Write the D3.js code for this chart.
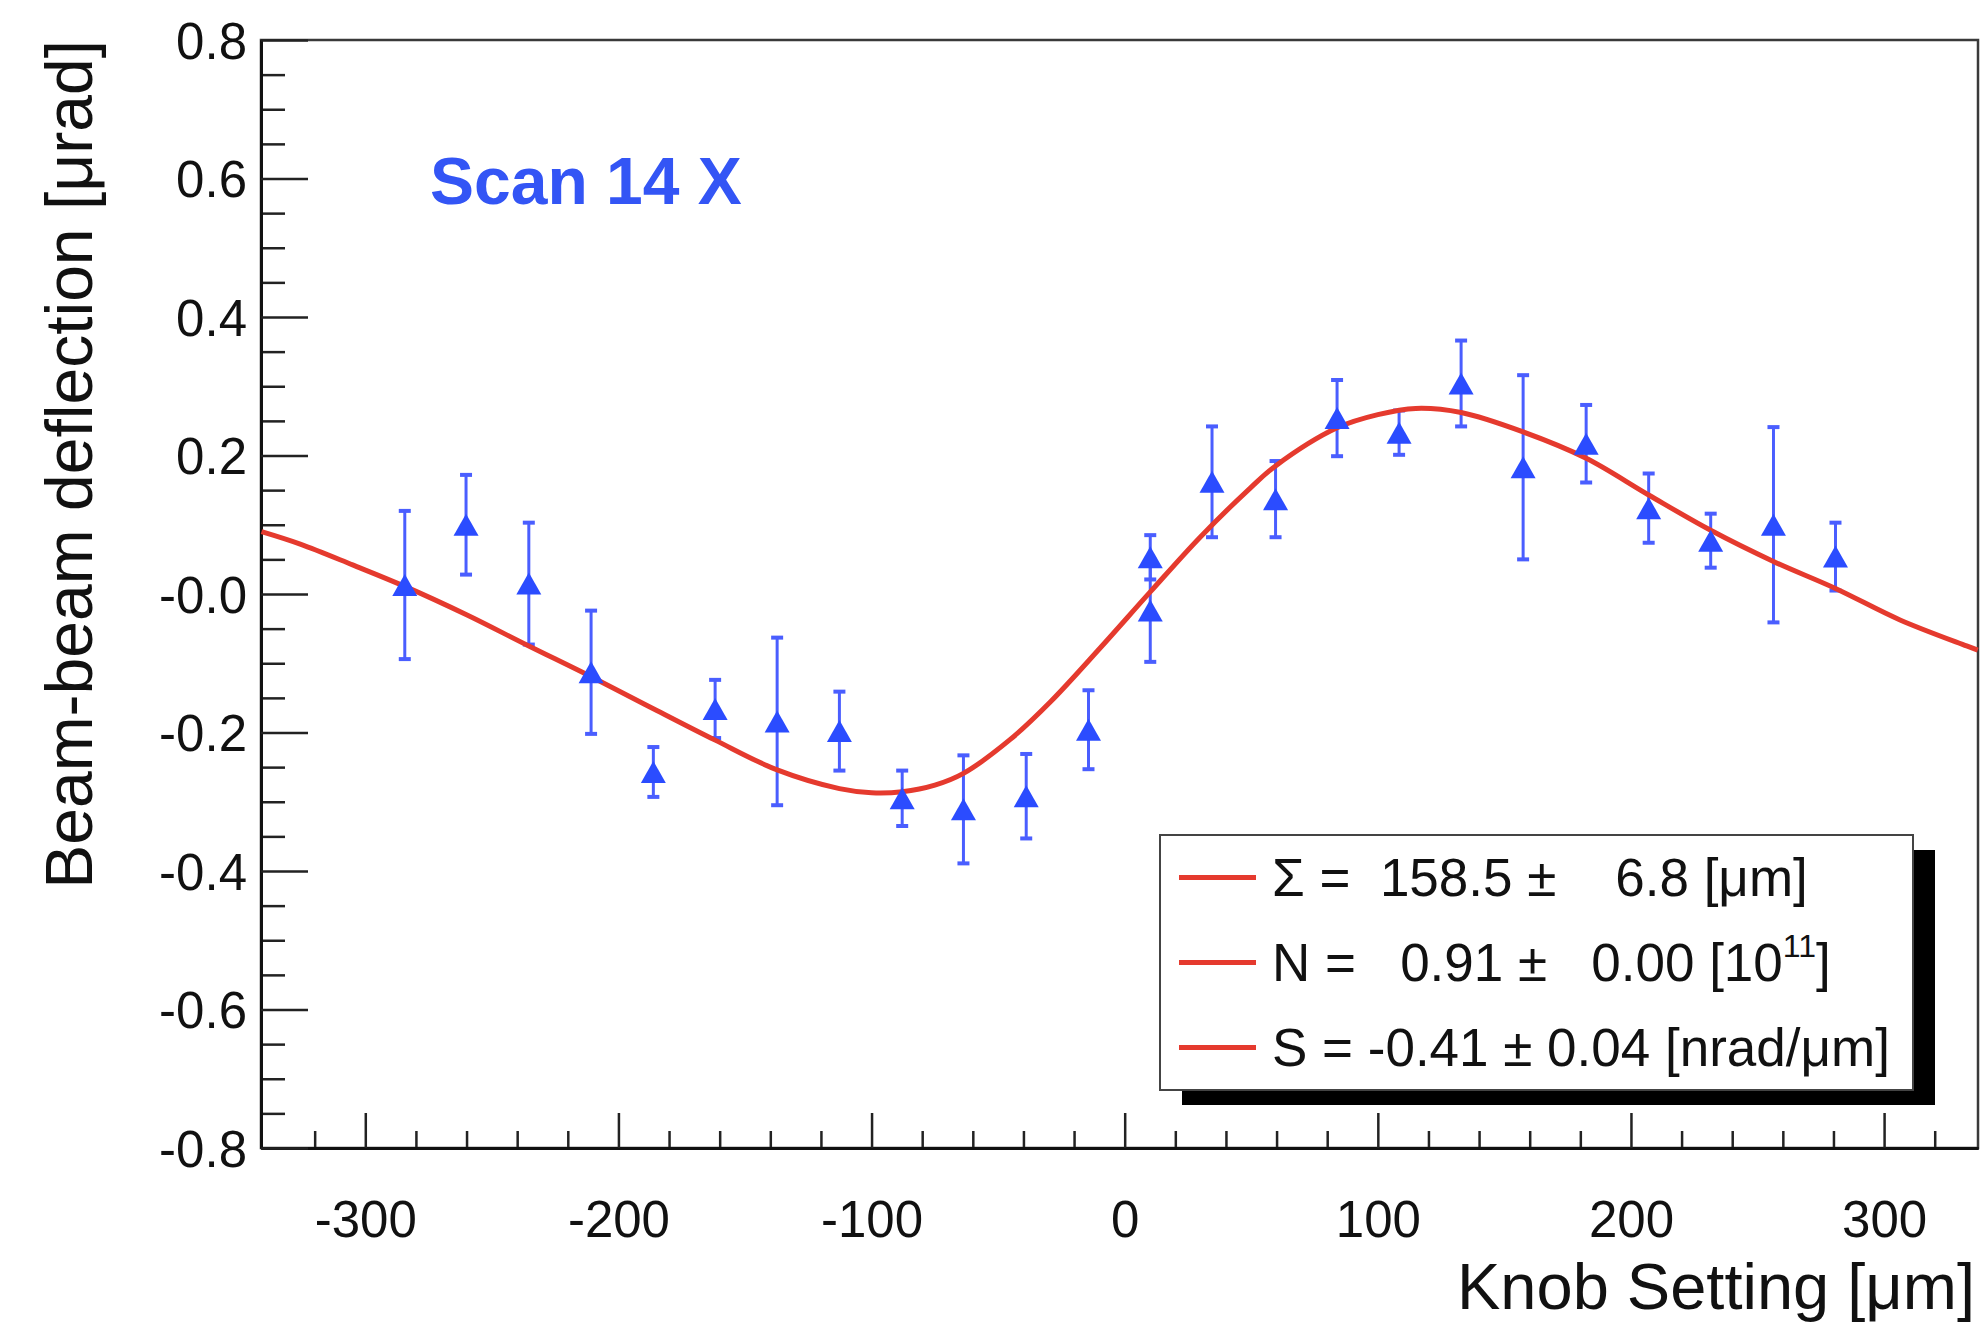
<!DOCTYPE html>
<html>
<head>
<meta charset="utf-8">
<script src="https://cdn.jsdelivr.net/npm/d3@7"></script>
<style>
  body { margin: 0; background: #ffffff; }
  text { font-family: "Liberation Sans", Arial, Helvetica, sans-serif; }
</style>
</head>
<body>
<svg id="chart" width="1983" height="1329"></svg>
<script>
// ---------------- data ----------------
const knobSetting = [-284.4, -260.2, -235.4, -210.8, -186.2, -161.8, -137.3, -112.7, -87.9, -63.7, -38.9, -14.3,
                     10.1, 10.1, 34.5, 59.6, 83.9, 108.4, 132.9, 157.4, 182.3, 207.0, 231.5, 256.3, 280.8];
const deflection  = [0.013, 0.100, 0.015, -0.113, -0.257, -0.166, -0.184, -0.198, -0.295, -0.311, -0.292, -0.196,
                     0.053, -0.024, 0.162, 0.137, 0.254, 0.233, 0.304, 0.183, 0.217, 0.124, 0.077, 0.100, 0.054];
const deflError   = [0.107, 0.072, 0.088, 0.089, 0.036, 0.042, 0.121, 0.057, 0.040, 0.078, 0.061, 0.057,
                     0.032, 0.074, 0.080, 0.055, 0.055, 0.032, 0.062, 0.133, 0.056, 0.050, 0.039, 0.141, 0.049];

// fitted curve
const fitKnob = [-341, -325.7, -305, -284.4, -260, -236, -211, -186, -161.8, -137.3, -112.7, -100, -87.9, -75, -63.7,
                 -45.2, -29.4, -9.7, 10.1, 29.8, 49.6, 59.6, 83.9, 100, 115, 132.9, 157.4, 182.3, 207, 231.5,
                 256.3, 280.8, 306.3, 332.6, 337];
const fitDefl = [0.090, 0.072, 0.042, 0.011, -0.030, -0.074, -0.119, -0.166, -0.211, -0.254, -0.281, -0.287, -0.2855,
                 -0.276, -0.259, -0.210, -0.156, -0.078, 0.003, 0.082, 0.153, 0.185, 0.240, 0.259, 0.268, 0.262,
                 0.234, 0.196, 0.143, 0.092, 0.047, 0.008, -0.0375, -0.075, -0.081];

const xTickValues = [-300, -200, -100, 0, 100, 200, 300];
const xTickLabels = ["-300", "-200", "-100", "0", "100", "200", "300"];
const yTickValues = [0.8, 0.6, 0.4, 0.2, 0.0, -0.2, -0.4, -0.6, -0.8];
const yTickLabels = ["0.8", "0.6", "0.4", "0.2", "-0.0", "-0.2", "-0.4", "-0.6", "-0.8"];

const legendRows = [
  ["Σ =  158.5 ±    6.8 [μm]", null],
  ["N =   0.91 ±   0.00 [10", "11", "]"],
  ["S = -0.41 ± 0.04 [nrad/μm]", null]
];
const scanLabel = "Scan 14 X";
const xTitle = "Knob Setting [μm]";
const yTitle = "Beam-beam deflection [μrad]";

// ---------------- layout ----------------
const svg = d3.select("#chart");
const W = 1983, H = 1329;
const plot = { left: 261, right: 1978, top: 40, bottom: 1148 };
const blue = "#2b4cff", barBlue = "#4a5eff", red = "#e53a2e";

svg.append("rect").attr("width", W).attr("height", H).attr("fill", "#fff");

const x = d3.scaleLinear().domain([-341.2, 337.1]).range([plot.left, plot.right]);
const y = d3.scaleLinear().domain([-0.8, 0.8]).range([plot.bottom, plot.top]);

// frame
svg.append("rect")
  .attr("x", plot.left).attr("y", plot.top)
  .attr("width", plot.right - plot.left).attr("height", plot.bottom - plot.top)
  .attr("fill", "none").attr("stroke", "#3a3a3a").attr("stroke-width", 2.5);

// minor ticks
const xMinor = d3.range(-320, 321, 20).filter(v => v % 100 !== 0);
const yMinor = d3.range(-15, 16, 1).map(v => v * 0.05).filter(v => Math.abs(Math.round(v * 100) % 20) !== 0);

const xMinorAxis = d3.axisBottom(x).tickValues(xMinor).tickFormat("").tickSizeInner(-17).tickSizeOuter(0);
const yMinorAxis = d3.axisLeft(y).tickValues(yMinor).tickFormat("").tickSizeInner(-24).tickSizeOuter(0);

const gxm = svg.append("g").attr("transform", `translate(0,${plot.bottom})`).call(xMinorAxis);
const gym = svg.append("g").attr("transform", `translate(${plot.left},0)`).call(yMinorAxis);

// major axes
const xAxis = d3.axisBottom(x).tickValues(xTickValues)
  .tickFormat((d, i) => xTickLabels[i]).tickSizeInner(-35).tickSizeOuter(0).tickPadding(53);
const yAxis = d3.axisLeft(y).tickValues(yTickValues)
  .tickFormat((d, i) => yTickLabels[i]).tickSizeInner(-47).tickSizeOuter(0).tickPadding(14);

const gx = svg.append("g").attr("transform", `translate(0,${plot.bottom})`).call(xAxis);
const gy = svg.append("g").attr("transform", `translate(${plot.left},0)`).call(yAxis);

[gx, gy, gxm, gym].forEach(g => {
  g.select(".domain").attr("stroke", "#111").attr("stroke-width", 3);
  g.selectAll(".tick line").attr("stroke", "#222").attr("stroke-width", 2.5);
});
gx.selectAll(".tick text").attr("font-size", 51).attr("fill", "#111")
  .attr("font-family", '"Liberation Sans", Arial, sans-serif');
gy.selectAll(".tick text").attr("font-size", 51).attr("fill", "#111").attr("dy", "0.36em")
  .attr("font-family", '"Liberation Sans", Arial, sans-serif');

// axis titles
svg.append("text").attr("x", 1975).attr("y", 1309).attr("text-anchor", "end")
  .attr("font-size", 65).attr("fill", "#111").text(xTitle);
svg.append("text").attr("transform", `translate(92,${plot.top}) rotate(-90)`)
  .attr("text-anchor", "end").attr("font-size", 66).attr("fill", "#111").text(yTitle);

// data
const pts = knobSetting.map((k, i) => ({ k, v: deflection[i], e: deflError[i] }));

const bars = svg.append("g").attr("stroke", barBlue);
bars.selectAll("line.v").data(pts).join("line").attr("class", "v")
  .attr("x1", d => x(d.k)).attr("x2", d => x(d.k))
  .attr("y1", d => y(d.v + d.e)).attr("y2", d => y(d.v - d.e))
  .attr("stroke-width", 3);
bars.selectAll("line.t").data(pts).join("line").attr("class", "t")
  .attr("x1", d => x(d.k) - 6).attr("x2", d => x(d.k) + 6)
  .attr("y1", d => y(d.v + d.e)).attr("y2", d => y(d.v + d.e))
  .attr("stroke-width", 4);
bars.selectAll("line.b").data(pts).join("line").attr("class", "b")
  .attr("x1", d => x(d.k) - 6).attr("x2", d => x(d.k) + 6)
  .attr("y1", d => y(d.v - d.e)).attr("y2", d => y(d.v - d.e))
  .attr("stroke-width", 4);

// fit curve
const fitPts = fitKnob.map((k, i) => [k, fitDefl[i]]);
const line = d3.line().x(d => x(d[0])).y(d => y(d[1])).curve(d3.curveCatmullRom.alpha(0.5));
svg.append("path").datum(fitPts).attr("d", line)
  .attr("fill", "none").attr("stroke", red).attr("stroke-width", 5).attr("stroke-linejoin", "round");

// markers (triangles up)
svg.append("g").selectAll("path").data(pts).join("path")
  .attr("d", d => {
    const cx = x(d.k), cy = y(d.v);
    return `M${cx - 12.5},${cy + 11} L${cx + 12.5},${cy + 11} L${cx},${cy - 11} Z`;
  })
  .attr("fill", blue);

// scan label
svg.append("text").attr("x", 430).attr("y", 204).attr("font-size", 66).attr("font-weight", "bold")
  .attr("fill", "#3355f5").text(scanLabel);

// legend
const lg = { x0: 1160, y0: 835, x1: 1913, y1: 1090 };
svg.append("rect").attr("x", lg.x0 + 22).attr("y", lg.y0 + 15)
  .attr("width", lg.x1 - lg.x0).attr("height", lg.y1 - lg.y0).attr("fill", "#000");
svg.append("rect").attr("x", lg.x0).attr("y", lg.y0)
  .attr("width", lg.x1 - lg.x0).attr("height", lg.y1 - lg.y0)
  .attr("fill", "#fff").attr("stroke", "#444").attr("stroke-width", 2);

const rowH = (lg.y1 - lg.y0) / legendRows.length;
legendRows.forEach((r, i) => {
  const cy = lg.y0 + rowH * (i + 0.5);
  svg.append("line").attr("x1", 1179).attr("x2", 1256).attr("y1", cy).attr("y2", cy)
    .attr("stroke", red).attr("stroke-width", 5);
  const t = svg.append("text").attr("x", 1272).attr("y", cy + 18).attr("font-size", 53)
    .attr("fill", "#111").style("white-space", "pre");
  t.append("tspan").text(r[0]);
  if (r[1]) {
    t.append("tspan").attr("font-size", 32).attr("dy", -24).text(r[1]);
    t.append("tspan").attr("dy", 24).text(r[2]);
  }
});
</script>
</body>
</html>
